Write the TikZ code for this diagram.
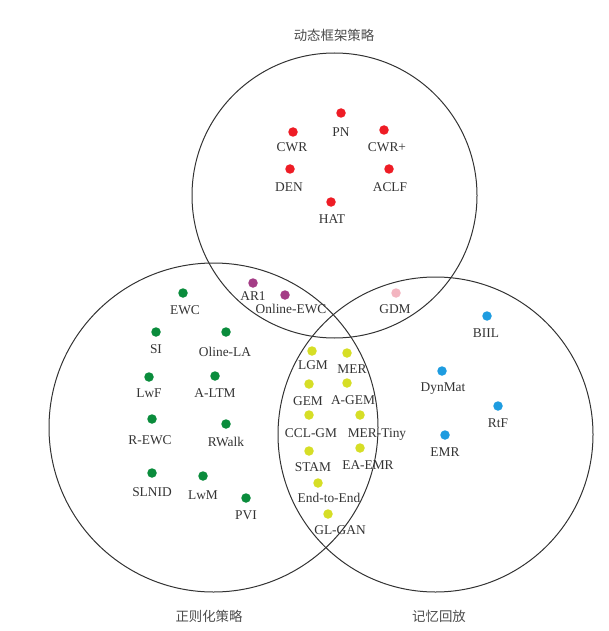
\documentclass[tikz,border=0pt]{standalone}
\usepackage{fontspec}
\setmainfont{Liberation Serif}
\newfontfamily\cjk{Noto Sans CJK SC}
\usepackage{xcolor}
\definecolor{dotred}{HTML}{EE1C25}
\definecolor{dotpurple}{HTML}{A43C86}
\definecolor{dotpink}{HTML}{F3B5C0}
\definecolor{dotgreen}{HTML}{0A8C3C}
\definecolor{dotyellow}{HTML}{D6DE26}
\definecolor{dotblue}{HTML}{1E9CE0}
\definecolor{inkgray}{HTML}{333333}

\begin{document}
\begin{tikzpicture}[x=1pt,y=-1pt,
  ring/.style={line width=1pt, draw=black!80},
  dotnode/.style={circle, inner sep=0pt, minimum size=9.5pt},
  rdot/.style={dotnode, fill=dotred},
  pdot/.style={dotnode, fill=dotpurple},
  kdot/.style={dotnode, fill=dotpink},
  gdot/.style={dotnode, fill=dotgreen},
  ydot/.style={dotnode, fill=dotyellow},
  bdot/.style={dotnode, fill=dotblue},
  lbl/.style={inner sep=0pt, text height=9pt, text depth=0pt, font=\fontsize{13.4}{15}\selectfont, text=inkgray},
  head/.style={inner sep=0pt, font=\cjk\fontsize{13.4}{15}\selectfont, text=black!70}]
\useasboundingbox (0,0) rectangle (608,631);

\draw [ring] (334.5,195.5) circle (142.5pt);
\draw [ring] (213.5,427.5) circle (164.5pt);
\draw [ring] (435.5,434.5) circle (157.5pt);

\node [head] (dyn) at (334,35) {动态框架策略};
\node [head] (reg) at (209,616) {正则化策略};
\node [head] (rep) at (439,616) {记忆回放};

\node [rdot] (pn) at (341,113) {};
\node [lbl] (pn-l) at (341,132) {PN};
\node [rdot] (cwr) at (293,132) {};
\node [lbl] (cwr-l) at (292,147) {CWR};
\node [rdot] (cwrp) at (384,130) {};
\node [lbl] (cwrp-l) at (387,147) {CWR+};
\node [rdot] (den) at (290,169) {};
\node [lbl] (den-l) at (289,187) {DEN};
\node [rdot] (aclf) at (389,169) {};
\node [lbl] (aclf-l) at (390,187) {ACLF};
\node [rdot] (hat) at (331,202) {};
\node [lbl] (hat-l) at (332,219) {HAT};

\node [pdot] (ar) at (253,283) {};
\node [lbl] (ar-l) at (253,296) {AR1};
\node [pdot] (oewc) at (285,295) {};
\node [lbl] (oewc-l) at (291,309) {Online-EWC};
\node [kdot] (gdm) at (396,293) {};
\node [lbl] (gdm-l) at (395,309) {GDM};

\node [gdot] (ewc) at (183,293) {};
\node [lbl] (ewc-l) at (185,310) {EWC};
\node [gdot] (si) at (156,332) {};
\node [lbl] (si-l) at (156,349) {SI};
\node [gdot] (ola) at (226,332) {};
\node [lbl] (ola-l) at (225,352) {Oline-LA};
\node [gdot] (lwf) at (149,377) {};
\node [lbl] (lwf-l) at (149,393) {LwF};
\node [gdot] (altm) at (215,376) {};
\node [lbl] (altm-l) at (215,393) {A-LTM};
\node [gdot] (rewc) at (152,419) {};
\node [lbl] (rewc-l) at (150,440) {R-EWC};
\node [gdot] (rwalk) at (226,424) {};
\node [lbl] (rwalk-l) at (226,442) {RWalk};
\node [gdot] (slnid) at (152,473) {};
\node [lbl] (slnid-l) at (152,492) {SLNID};
\node [gdot] (lwm) at (203,476) {};
\node [lbl] (lwm-l) at (203,495) {LwM};
\node [gdot] (pvi) at (246,498) {};
\node [lbl] (pvi-l) at (246,515) {PVI};

\node [ydot] (lgm) at (312,351) {};
\node [lbl] (lgm-l) at (313,365) {LGM};
\node [ydot] (mer) at (347,353) {};
\node [lbl] (mer-l) at (352,369) {MER};
\node [ydot] (gem) at (309,384) {};
\node [lbl] (gem-l) at (308,401) {GEM};
\node [ydot] (agem) at (347,383) {};
\node [lbl] (agem-l) at (353,400) {A-GEM};
\node [ydot] (cclgm) at (309,415) {};
\node [lbl] (cclgm-l) at (311,433) {CCL-GM};
\node [ydot] (mert) at (360,415) {};
\node [lbl] (mert-l) at (377,433) {MER-Tiny};
\node [ydot] (stam) at (309,451) {};
\node [lbl] (stam-l) at (313,467) {STAM};
\node [ydot] (eaemr) at (360,448) {};
\node [lbl] (eaemr-l) at (368,465) {EA-EMR};
\node [ydot] (e2e) at (318,483) {};
\node [lbl] (e2e-l) at (329,498) {End-to-End};
\node [ydot] (glgan) at (328,514) {};
\node [lbl] (glgan-l) at (340,530) {GL-GAN};

\node [bdot] (biil) at (487,316) {};
\node [lbl] (biil-l) at (486,333) {BIIL};
\node [bdot] (dynmat) at (442,371) {};
\node [lbl] (dynmat-l) at (443,387) {DynMat};
\node [bdot] (rtf) at (498,406) {};
\node [lbl] (rtf-l) at (498,423) {RtF};
\node [bdot] (emr) at (445,435) {};
\node [lbl] (emr-l) at (445,452) {EMR};
\end{tikzpicture}
\end{document}
